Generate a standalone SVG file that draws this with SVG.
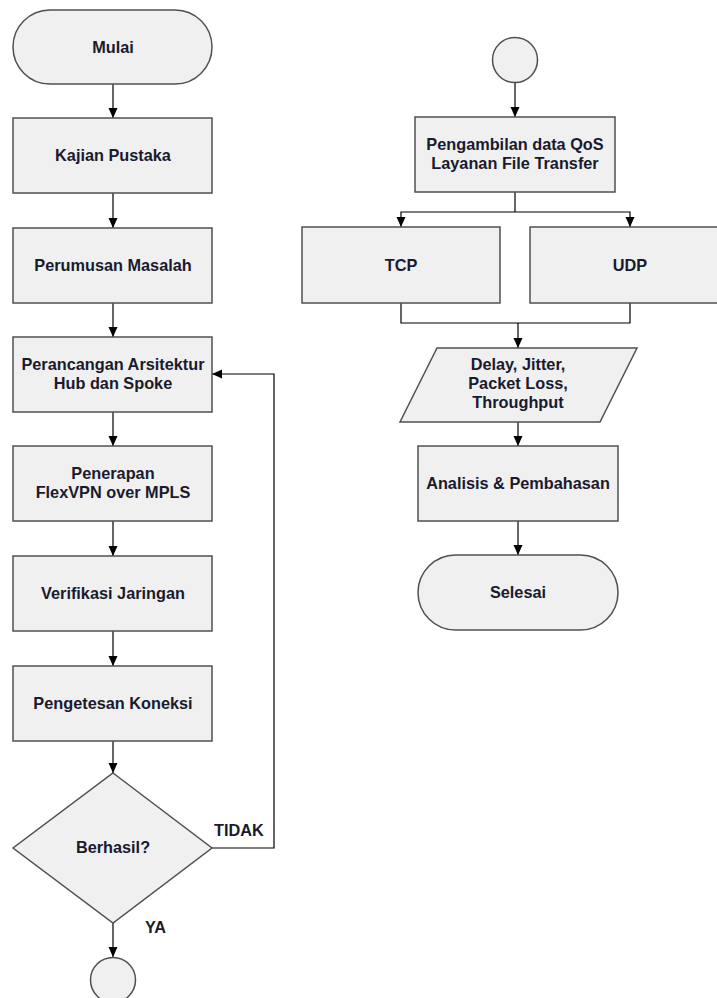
<svg xmlns="http://www.w3.org/2000/svg" width="717" height="998" viewBox="0 0 717 998">
<style>
.n{fill:#f0f0f0;stroke:#505050;stroke-width:1.5}
.c{fill:none;stroke:#000;stroke-width:1.2}
.a{marker-end:url(#ah)}
text{font-family:"Liberation Sans",Arial,sans-serif;font-weight:bold;font-size:16.3px;fill:#1a1a2e;text-anchor:middle}
.l{text-anchor:start}
</style>
<defs>
<marker id="ah" markerWidth="10" markerHeight="10" refX="10" refY="5" orient="auto" markerUnits="userSpaceOnUse">
<path d="M0,0.5 L10,5 L0,9.5 Z" fill="#000"/>
</marker>
</defs>
<rect width="717" height="998" fill="#fff"/>
<g id="connectors">
<line class="c a" x1="113" y1="84" x2="113" y2="118"/>
<line class="c a" x1="113" y1="193" x2="113" y2="228"/>
<line class="c a" x1="113" y1="303" x2="113" y2="337"/>
<line class="c a" x1="113" y1="412" x2="113" y2="446"/>
<line class="c a" x1="113" y1="521" x2="113" y2="556"/>
<line class="c a" x1="113" y1="631" x2="113" y2="666"/>
<line class="c a" x1="113" y1="741" x2="113" y2="773"/>
<line class="c a" x1="113" y1="923" x2="113" y2="957"/>
<polyline class="c a" points="212,848 274,848 274,374 212,374"/>
<text class="l" x="214" y="836">TIDAK</text>
<text class="l" x="145" y="933">YA</text>
<line class="c a" x1="515" y1="83" x2="515" y2="117"/>
<polyline class="c" points="515,192 515,212"/>
<polyline class="c a" points="515,212 401,212 401,227"/>
<polyline class="c a" points="515,212 630,212 630,227"/>
<polyline class="c" points="401,303 401,323 630,323 630,303"/>
<line class="c a" x1="518" y1="323" x2="518" y2="348"/>
<line class="c a" x1="518" y1="422" x2="518" y2="446"/>
<line class="c a" x1="518" y1="521" x2="518" y2="555"/>
</g>
<g id="mulai"><rect class="n" x="13" y="10" width="199" height="74" rx="37"/><text x="113" y="53">Mulai</text></g>
<g id="kajian"><rect class="n" x="13" y="118" width="199" height="75"/><text x="113" y="161">Kajian Pustaka</text></g>
<g id="perumusan"><rect class="n" x="13" y="228" width="199" height="75"/><text x="113" y="271">Perumusan Masalah</text></g>
<g id="perancangan"><rect class="n" x="13" y="337" width="199" height="75"/><text x="113" y="370">Perancangan Arsitektur</text><text x="113" y="389">Hub dan Spoke</text></g>
<g id="penerapan"><rect class="n" x="13" y="446" width="199" height="75"/><text x="113" y="479">Penerapan</text><text x="113" y="498">FlexVPN over MPLS</text></g>
<g id="verifikasi"><rect class="n" x="13" y="556" width="199" height="75"/><text x="113" y="599">Verifikasi Jaringan</text></g>
<g id="pengetesan"><rect class="n" x="13" y="666" width="199" height="75"/><text x="113" y="709">Pengetesan Koneksi</text></g>
<g id="berhasil"><polygon class="n" points="113,773 212,848 113,923 13,848"/><text x="113" y="853">Berhasil?</text></g>
<g id="conn-a"><circle class="n" cx="113" cy="980" r="22.5"/></g>
<g id="conn-b"><circle class="n" cx="515" cy="60" r="22.5"/></g>
<g id="pengambilan"><rect class="n" x="415" y="117" width="200" height="75"/><text x="515" y="150">Pengambilan data QoS</text><text x="515" y="169">Layanan File Transfer</text></g>
<g id="tcp"><rect class="n" x="302" y="227" width="198" height="76"/><text x="401" y="271">TCP</text></g>
<g id="udp"><rect class="n" x="530" y="227" width="200" height="76"/><text x="630" y="271">UDP</text></g>
<g id="data"><polygon class="n" points="437,348 637,348 600,422 400,422"/><text x="518" y="370">Delay, Jitter,</text><text x="518" y="389">Packet Loss,</text><text x="518" y="408">Throughput</text></g>
<g id="analisis"><rect class="n" x="418" y="446" width="200" height="75"/><text x="518" y="489">Analisis &amp; Pembahasan</text></g>
<g id="selesai"><rect class="n" x="418" y="555" width="200" height="75" rx="37.5"/><text x="518" y="598">Selesai</text></g>
</svg>
